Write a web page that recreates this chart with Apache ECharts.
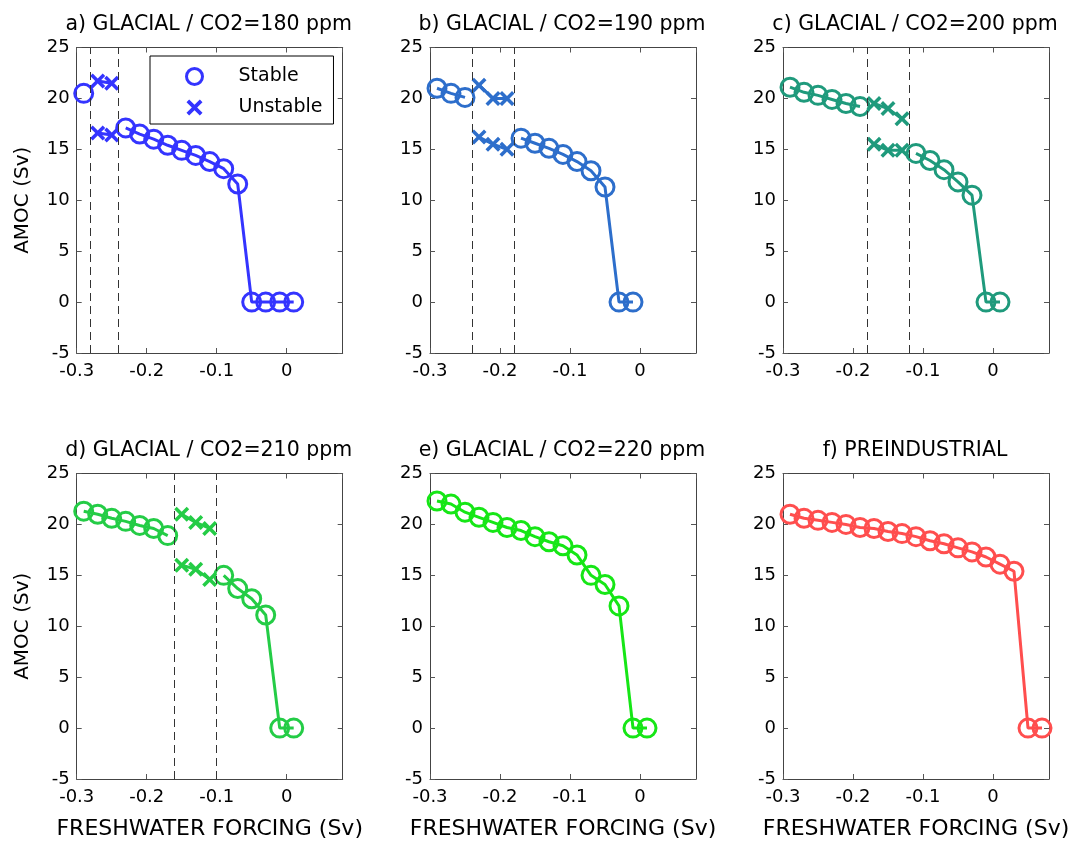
<!DOCTYPE html>
<html>
<head>
<meta charset="utf-8">
<script src="https://cdn.jsdelivr.net/npm/echarts@6/dist/echarts.min.js"></script>
<style>
html,body{margin:0;padding:0;background:#fff;}
#chart{width:1074px;height:841px;}
</style>
</head>
<body>
<div id="chart"></div>
<script>
// ---------- tick labels ----------
const xTicks = [-0.3, -0.2, -0.1, 0];
const yTicks = [-5, 0, 5, 10, 15, 20, 25];
const xMax = 0.08;

// ---------- panel titles ----------
const titles = [
  'a) GLACIAL / CO2=180 ppm',
  'b) GLACIAL / CO2=190 ppm',
  'c) GLACIAL / CO2=200 ppm',
  'd) GLACIAL / CO2=210 ppm',
  'e) GLACIAL / CO2=220 ppm',
  'f) PREINDUSTRIAL'
];

// ---------- panel a (180 ppm) ----------
const aStableUpper   = [[-0.29, 20.5]];
const aUnstableUpper = [[-0.27, 21.7], [-0.25, 21.5]];
const aUnstableLower = [[-0.27, 16.6], [-0.25, 16.4]];
const aStableLower   = [[-0.23, 17.1], [-0.21, 16.5], [-0.19, 16.0], [-0.17, 15.4], [-0.15, 14.9],
                        [-0.13, 14.4], [-0.11, 13.8], [-0.09, 13.1], [-0.07, 11.6],
                        [-0.05, 0], [-0.03, 0], [-0.01, 0], [0.01, 0]];
const aBounds = [-0.28, -0.24];

// ---------- panel b (190 ppm) ----------
const bStableUpper   = [[-0.29, 21.0], [-0.27, 20.5], [-0.25, 20.1]];
const bUnstableUpper = [[-0.23, 21.3], [-0.21, 20.0], [-0.19, 20.0]];
const bUnstableLower = [[-0.23, 16.2], [-0.21, 15.5], [-0.19, 15.0]];
const bStableLower   = [[-0.17, 16.1], [-0.15, 15.6], [-0.13, 15.1], [-0.11, 14.5], [-0.09, 13.8],
                        [-0.07, 12.9], [-0.05, 11.3], [-0.03, 0], [-0.01, 0]];
const bBounds = [-0.24, -0.18];

// ---------- panel c (200 ppm) ----------
const cStableUpper   = [[-0.29, 21.1], [-0.27, 20.6], [-0.25, 20.3], [-0.23, 19.9], [-0.21, 19.5], [-0.19, 19.2]];
const cUnstableUpper = [[-0.17, 19.5], [-0.15, 19.0], [-0.13, 18.0]];
const cUnstableLower = [[-0.17, 15.5], [-0.15, 14.9], [-0.13, 14.9]];
const cStableLower   = [[-0.11, 14.6], [-0.09, 13.9], [-0.07, 13.0], [-0.05, 11.8], [-0.03, 10.5],
                        [-0.01, 0], [0.01, 0]];
const cBounds = [-0.18, -0.12];

// ---------- panel d (210 ppm) ----------
const dStableUpper   = [[-0.29, 21.3], [-0.27, 21.0], [-0.25, 20.6], [-0.23, 20.3], [-0.21, 19.9],
                        [-0.19, 19.6], [-0.17, 18.9]];
const dUnstableUpper = [[-0.15, 21.0], [-0.13, 20.2], [-0.11, 19.6]];
const dUnstableLower = [[-0.15, 16.0], [-0.13, 15.6], [-0.11, 14.6]];
const dStableLower   = [[-0.09, 15.0], [-0.07, 13.7], [-0.05, 12.7], [-0.03, 11.1], [-0.01, 0], [0.01, 0]];
const dBounds = [-0.16, -0.10];

// ---------- panel e (220 ppm) ----------
const eStable = [[-0.29, 22.3], [-0.27, 22.0], [-0.25, 21.2], [-0.23, 20.7], [-0.21, 20.2], [-0.19, 19.7],
                 [-0.17, 19.4], [-0.15, 18.8], [-0.13, 18.3], [-0.11, 17.9], [-0.09, 17.0], [-0.07, 15.0],
                 [-0.05, 14.1], [-0.03, 12.0], [-0.01, 0], [0.01, 0]];

// ---------- panel f (preindustrial) ----------
const fStable = [[-0.29, 21.0], [-0.27, 20.6], [-0.25, 20.4], [-0.23, 20.2], [-0.21, 20.0], [-0.19, 19.7],
                 [-0.17, 19.6], [-0.15, 19.3], [-0.13, 19.1], [-0.11, 18.8], [-0.09, 18.4], [-0.07, 18.1],
                 [-0.05, 17.7], [-0.03, 17.3], [-0.01, 16.8], [0.01, 16.1], [0.03, 15.4],
                 [0.05, 0], [0.07, 0]];

const colors = ['#3434ff', '#2d6ecb', '#1f9a7c', '#24cc46', '#16e616', '#ff4e4e'];

const panels = [
  { stable: [aStableUpper, aStableLower], unstable: [aUnstableUpper, aUnstableLower], bounds: aBounds },
  { stable: [bStableUpper, bStableLower], unstable: [bUnstableUpper, bUnstableLower], bounds: bBounds },
  { stable: [cStableUpper, cStableLower], unstable: [cUnstableUpper, cUnstableLower], bounds: cBounds },
  { stable: [dStableUpper, dStableLower], unstable: [dUnstableUpper, dUnstableLower], bounds: dBounds },
  { stable: [eStable], unstable: [], bounds: [] },
  { stable: [fStable], unstable: [], bounds: [] }
];

// ---------- layout ----------
const FONT = 'DejaVu Sans';
const lefts = [76.7, 430, 783];
const tops = [47.5, 473.5];
const GW = 266, GH = 305.5;
const crossPath = 'path://M0,4L4,0L12,8L20,0L24,4L16,12L24,20L20,24L12,16L4,24L0,20L8,12Z';

const grid = [], xAxis = [], yAxis = [], series = [], title = [];
panels.forEach((p, i) => {
  const col = i % 3, row = Math.floor(i / 3);
  const color = colors[i];
  grid.push({ left: lefts[col], top: tops[row], width: GW, height: GH, containLabel: false });
  const axisLine = { show: true, onZero: false, lineStyle: { color: '#444', width: 1 } };
  const tick = { show: true, inside: true, length: 5, lineStyle: { color: '#555' } };
  xAxis.push({
    gridIndex: i, type: 'value', min: xTicks[0], max: xMax, interval: 0.1, position: 'bottom',
    axisLine, axisTick: tick, splitLine: { show: false },
    axisLabel: { fontSize: 18, color: '#000', fontFamily: FONT, margin: 9, showMaxLabel: false,
      formatter: v => (Math.abs(v) < 1e-9 ? '0' : String(Math.round(v * 10) / 10)) },
    name: row === 1 ? 'FRESHWATER FORCING (Sv)' : '', nameLocation: 'middle', nameGap: 39,
    nameTextStyle: { fontSize: 22, color: '#000', fontFamily: FONT }
  });
  xAxis.push({
    gridIndex: i, type: 'value', min: xTicks[0], max: xMax, interval: 0.1, position: 'top',
    axisLine, axisTick: tick, axisLabel: { show: false }, splitLine: { show: false }
  });
  yAxis.push({
    gridIndex: i, type: 'value', min: yTicks[0], max: yTicks[yTicks.length - 1], interval: 5, position: 'left',
    axisLine, axisTick: tick, splitLine: { show: false },
    axisLabel: { fontSize: 18, color: '#000', fontFamily: FONT, margin: 7 },
    name: col === 0 ? 'AMOC (Sv)' : '', nameLocation: 'middle', nameGap: 44, nameRotate: 90,
    nameTextStyle: { fontSize: 20, color: '#000', fontFamily: FONT }
  });
  yAxis.push({
    gridIndex: i, type: 'value', min: yTicks[0], max: yTicks[yTicks.length - 1], interval: 5, position: 'right',
    axisLine, axisTick: tick, axisLabel: { show: false }, splitLine: { show: false }
  });
  title.push({
    text: titles[i], left: lefts[col] + GW / 2 - 6, top: row === 0 ? 9 : 435, textAlign: 'center',
    textStyle: { fontSize: 20.5, fontWeight: 'normal', color: '#000', fontFamily: FONT }
  });
  const xi = i * 2, yi = i * 2;
  // dashed boundary lines
  if (p.bounds.length) {
    series.push({
      type: 'line', xAxisIndex: xi, yAxisIndex: yi, data: [], silent: true, z: 1,
      markLine: {
        symbol: 'none', silent: true, label: { show: false },
        lineStyle: { color: '#333', type: [8, 5], width: 1 },
        data: p.bounds.map(b => ({ xAxis: b }))
      }
    });
  }
  p.unstable.forEach(d => {
    series.push({
      name: i === 0 ? 'Unstable' : 'Unstable ' + i, type: 'line', xAxisIndex: xi, yAxisIndex: yi, data: d,
      symbol: crossPath, symbolSize: 15, z: 3,
      lineStyle: { color, width: 3 }, itemStyle: { color }
    });
  });
  p.stable.forEach(d => {
    series.push({
      name: i === 0 ? 'Stable' : 'Stable ' + i, type: 'line', xAxisIndex: xi, yAxisIndex: yi, data: d,
      symbol: 'circle', symbolSize: 18, z: 3,
      lineStyle: { color, width: 3 },
      itemStyle: { color: 'rgba(0,0,0,0)', borderColor: color, borderWidth: 3 }
    });
  });
});

const option = {
  animation: false,
  backgroundColor: '#fff',
  title, grid, xAxis, yAxis, series,
  legend: {
    orient: 'vertical', left: 150, top: 56,
    padding: [11, 11, 7, 35], itemWidth: 78, itemHeight: 16, itemGap: 12,
    borderColor: '#000', borderWidth: 1, backgroundColor: '#fff',
    textStyle: { fontSize: 19, color: '#000', fontFamily: FONT },
    data: [
      { name: 'Stable', icon: 'circle', itemStyle: { color: 'rgba(0,0,0,0)', borderColor: colors[0], borderWidth: 3 } },
      { name: 'Unstable', icon: crossPath, itemStyle: { color: colors[0], borderWidth: 0 } }
    ]
  }
};

const chart = echarts.init(document.getElementById('chart'), null, { renderer: 'canvas' });
chart.setOption(option);
</script>
</body>
</html>
